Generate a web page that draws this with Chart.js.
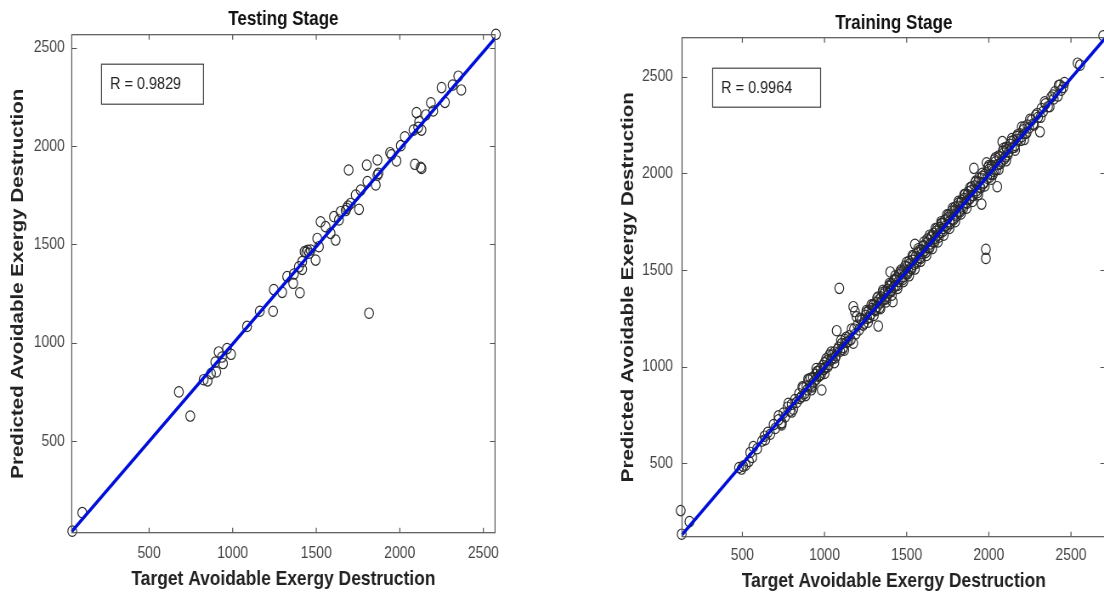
<!DOCTYPE html>
<html>
<head>
<meta charset="utf-8">
<script src="https://cdn.jsdelivr.net/npm/chart.js@4/dist/chart.umd.min.js"></script>
<style>
  html, body { margin: 0; padding: 0; background: #fff; overflow: hidden; width: 1104px; height: 594px; }
  /* the source figure is squeezed horizontally, so both canvases are drawn wide and squeezed */
  canvas { position: absolute; top: 0; transform: scaleX(0.85); transform-origin: 0 0; }
  #left { left: 0; }
  #right { left: 600px; }
</style>
</head>
<body>
<canvas id="left" width="612" height="594"></canvas>
<canvas id="right" width="612" height="594"></canvas>
<script>
// tick labels shared by both panels
const tickValues = [500, 1000, 1500, 2000, 2500];

// Testing stage
const testTarget = [
  2575, 2350, 2316, 2368, 2250, 2270, 2186, 2200, 2156, 2100, 2116, 2082, 2130, 2110,
  2030, 2006, 1980, 1942, 1950, 2090, 2130, 2125, 1866, 1802, 1694, 1872, 1866, 1806,
  1856, 1766, 1736, 1706, 1682, 1690, 1676, 1756, 1646, 1606, 1636, 1526, 1556, 1586,
  1616, 1506, 1516, 1466, 1448, 1440, 1430, 1458, 1496, 1416, 1396, 1416, 1366, 1326,
  1362, 1246, 1296, 1402, 1162, 1242, 1816, 1086, 966, 916, 990, 936, 896, 942, 902,
  870, 826, 850, 678, 746, 100, 40,
];
const testPredicted = [
  2568, 2355, 2310, 2285, 2297, 2222, 2220, 2178, 2158, 2170, 2124, 2081, 2081, 2095,
  2047, 2002, 1924, 1966, 1955, 1907, 1886, 1892, 1929, 1903, 1878, 1861, 1852, 1819,
  1802, 1776, 1751, 1708, 1683, 1695, 1672, 1678, 1666, 1641, 1624, 1615, 1590, 1556,
  1522, 1530, 1488, 1471, 1470, 1460, 1463, 1455, 1420, 1412, 1386, 1373, 1349, 1336,
  1302, 1270, 1256, 1254, 1160, 1160, 1150, 1083, 970, 953, 941, 927, 902, 894, 851,
  843, 812, 806, 750, 627, 136, 42,
];
const testFitX = [37, 2570];
const testFitY = [40, 2548];

// Training stage
const trainTarget = [
  131, 125, 178,
  480, 495, 505, 520, 540, 560, 548, 567, 590,
  620, 635, 640, 655, 670, 690, 700, 720, 735, 739, 750, 760,
  775, 790, 800, 810, 820, 830, 845, 850, 860, 870, 880, 890, 895, 905, 910, 920,
  930, 935, 945, 950, 960, 965, 975, 980, 983, 990, 995,
  1000, 1005, 1015, 1020, 1030, 1040, 1050, 1060, 1070, 1074, 1080, 1090, 1095, 1105,
  1115, 1125, 1135, 1150, 1160, 1175, 1175, 1185, 1195, 1180, 1200, 1210, 1225, 1240,
  1250, 1260, 1270, 1280, 1290,
  1300, 1305, 1315, 1320, 1327, 1330, 1340, 1345, 1350, 1360, 1365, 1370, 1380, 1385,
  1390, 1400, 1400, 1405, 1415, 1410, 1420, 1430, 1435, 1440, 1450, 1455, 1465, 1470,
  1480, 1485, 1495,
  1500, 1510, 1520, 1525, 1535, 1545, 1550, 1555, 1565, 1570, 1580, 1590, 1595, 1605,
  1610, 1620, 1630, 1635, 1645, 1650, 1660, 1665, 1675, 1680, 1690,
  1700, 1705, 1715, 1725, 1730, 1740, 1750, 1760, 1770, 1780, 1790, 1800, 1810, 1820,
  1830, 1840, 1850, 1860, 1870, 1880, 1890,
  1900, 1909, 1915, 1925, 1935, 1945, 1956, 1955, 1965, 1975, 1982, 1982, 1986, 1990,
  2000, 2010, 2020, 2030, 2040, 2051, 2055, 2065, 2075, 2082, 2090, 2100, 2110, 2120,
  2130, 2140, 2150, 2160, 2170, 2180, 2190,
  2200, 2210, 2220, 2235, 2245, 2260, 2270, 2285, 2300, 2311, 2320, 2330, 2345, 2360,
  2380, 2395,
  2402, 2433, 2453, 2440, 2460, 2540, 2555, 2696,
  865, 885, 915, 925, 955, 970, 1010, 1025, 1045, 1065, 1085, 1110, 1130, 1145, 1165,
  1190, 1215, 1235, 1255, 1275, 1295, 1310, 1325, 1335, 1355, 1375, 1395, 1408, 1425,
  1445, 1460, 1475, 1490, 1505, 1515, 1530, 1540, 1560, 1575, 1585, 1600, 1615, 1625,
  1640, 1655, 1670, 1685, 1695, 1710, 1720, 1735, 1745, 1755, 1765, 1775, 1785, 1795,
  1805, 1815, 1825, 1835, 1845, 1855, 1865, 1875, 1885, 1895, 1905, 1920, 1930, 1940,
  1950, 1960, 1970, 1995, 2005, 2015, 2025, 2035, 2045, 2060, 2070, 2085, 2095, 2105,
  2115, 2135, 2155, 2175, 2195, 2215, 2230, 2250, 2275, 2295, 2315, 2340, 2370, 2390,
  2420, 2425,
  1255, 1265, 1285, 1300, 1320, 1340, 1355, 1375, 1395, 1410, 1430, 1445, 1465, 1480,
  1500, 1515, 1535, 1550, 1570, 1585, 1605, 1620, 1640, 1655, 1675, 1690, 1710, 1725,
  1745, 1760, 1780, 1795, 1815, 1830, 1850, 1865, 1885, 1900, 1920, 1935, 1960, 1975,
  2000, 2015, 2040, 2060, 2090, 2105, 2140, 2160, 2200, 2215,
  900, 920, 950, 1000, 1040, 1060, 1100, 1120, 780, 800, 720, 740,
];
const trainPredicted = [
  133, 255, 198,
  478, 470, 485, 490, 510, 530, 556, 586, 575,
  615, 640, 622, 660, 650, 700, 680, 725, 705, 698, 760, 740,
  790, 770, 805, 780, 830, 815, 860, 835, 845, 890, 862, 900, 880, 930, 905, 900,
  945, 920, 960, 935, 975, 950, 990, 960, 879, 1005, 985,
  1020, 995, 1030, 1000, 1060, 1035, 1045, 1075, 1055, 1186, 1090, 1405, 1080, 1120,
  1100, 1140, 1125, 1160, 1140, 1121, 1310, 1285, 1258, 1195, 1215, 1190, 1240, 1225,
  1265, 1250, 1290, 1270, 1300,
  1320, 1295, 1330, 1310, 1210, 1345, 1330, 1360, 1340, 1375, 1350, 1390, 1365, 1400,
  1380, 1415, 1490, 1395, 1336, 1430, 1410, 1445, 1420, 1460, 1440, 1475, 1455, 1490,
  1465, 1500, 1480,
  1515, 1495, 1535, 1510, 1550, 1530, 1633, 1570, 1545, 1590, 1565, 1605, 1585, 1625,
  1600, 1640, 1615, 1655, 1635, 1670, 1645, 1690, 1665, 1700, 1680,
  1720, 1695, 1740, 1715, 1755, 1730, 1770, 1750, 1790, 1765, 1805, 1790, 1830, 1805,
  1850, 1830, 1870, 1850, 1890, 1865, 1910,
  1885, 2026, 1935, 1910, 1955, 1930, 1841, 1975, 1950, 1995, 1607, 1560, 2055, 1975,
  2020, 1995, 2040, 2010, 2060, 1931, 2045, 2085, 2060, 2164, 2105, 2085, 2125, 2110,
  2150, 2130, 2170, 2145, 2190, 2175, 2205,
  2190, 2225, 2205, 2250, 2235, 2275, 2255, 2300, 2290, 2215, 2335, 2320, 2360, 2345,
  2395, 2385,
  2422, 2457, 2445, 2430, 2470, 2570, 2560, 2712,
  895, 850, 940, 895, 975, 955, 1040, 1010, 1060, 1045, 1100, 1090, 1150, 1130, 1195,
  1170, 1250, 1215, 1280, 1255, 1320, 1290, 1360, 1305, 1385, 1350, 1420, 1390, 1450,
  1420, 1490, 1450, 1520, 1480, 1545, 1505, 1570, 1535, 1600, 1560, 1625, 1590, 1660,
  1615, 1680, 1645, 1715, 1670, 1740, 1700, 1760, 1720, 1785, 1740, 1805, 1760, 1825,
  1780, 1845, 1800, 1860, 1820, 1890, 1845, 1905, 1870, 1930, 1885, 1955, 1900, 1975,
  1925, 1985, 1950, 2030, 1980, 2040, 1995, 2070, 2020, 2090, 2050, 2115, 2075, 2135,
  2095, 2165, 2135, 2200, 2170, 2240, 2210, 2280, 2250, 2310, 2290, 2370, 2345, 2405,
  2400, 2455,
  1290, 1230, 1320, 1265, 1355, 1300, 1395, 1335, 1430, 1370, 1470, 1405, 1500, 1440,
  1540, 1470, 1575, 1505, 1610, 1545, 1645, 1575, 1680, 1610, 1715, 1645, 1750, 1680,
  1785, 1715, 1820, 1750, 1855, 1790, 1890, 1820, 1925, 1855, 1960, 1890, 2000, 1935,
  2040, 1970, 2080, 2020, 2130, 2065, 2180, 2120, 2240, 2175,
  935, 880, 990, 965, 1075, 1020, 1135, 1085, 810, 765, 745, 710,
];
const trainFitX = [133, 2710];
const trainFitY = [130, 2702];

const font = '"Liberation Sans", Arial, sans-serif';

// box round the plot, inward ticks on all four sides, R label
const frame = {
  id: "frame",
  afterDatasetsDraw(chart, args, opts) {
    const { ctx, chartArea: a, scales } = chart;
    ctx.save();
    ctx.strokeStyle = "#555";
    ctx.lineWidth = 1.2;
    ctx.strokeRect(a.left, a.top, a.right - a.left, a.bottom - a.top);
    ctx.beginPath();
    tickValues.forEach((v) => {
      const x = scales.x.getPixelForValue(v);
      if (x > a.left && x < a.right) {
        ctx.moveTo(x, a.bottom); ctx.lineTo(x, a.bottom - 5);
        ctx.moveTo(x, a.top); ctx.lineTo(x, a.top + 5);
      }
      const y = Math.round(scales.y.getPixelForValue(v)) + 0.5;
      if (y > a.top && y < a.bottom) {
        ctx.moveTo(a.left, y); ctx.lineTo(a.left + 6, y);
        ctx.moveTo(a.right, y); ctx.lineTo(a.right - 6, y);
      }
    });
    ctx.stroke();

    const bx = a.left + opts.boxX, by = a.top + opts.boxY;
    ctx.fillStyle = "#fff";
    ctx.fillRect(bx, by, opts.boxW, opts.boxH);
    ctx.strokeStyle = "#444";
    ctx.lineWidth = 1.2;
    ctx.strokeRect(bx, by + 0.5, opts.boxW, opts.boxH);
    ctx.fillStyle = "#222";
    ctx.font = "17px " + font;
    ctx.textBaseline = "middle";
    ctx.fillText(opts.label, bx + 10, by + opts.boxH / 2 + 1);
    ctx.restore();
  },
};

const getOptions = (cfg) => ({
  responsive: false,
  animation: false,
  layout: { padding: { left: 0, right: cfg.padRight, top: 0, bottom: 0 } },
  plugins: {
    legend: { display: false },
    tooltip: { enabled: false },
    title: {
      display: true,
      text: cfg.title,
      fullSize: false,
      color: "#111",
      font: { family: font, size: 20, weight: "bold" },
      padding: cfg.titlePad,
    },
    frame: cfg.box,
  },
  scales: {
    x: {
      type: "linear",
      min: cfg.xRange[0],
      max: cfg.xRange[1],
      afterBuildTicks: (s) => { s.ticks = tickValues.map((v) => ({ value: v })); },
      afterFit: (s) => { s.height = cfg.xHeight; },
      grid: { display: false, drawTicks: false },
      border: { display: false },
      ticks: {
        color: "#444",
        padding: cfg.xTickPad,
        font: { family: font, size: 16.4 },
        callback: (v) => String(v),
      },
      title: {
        display: true,
        text: "Target Avoidable Exergy Destruction",
        color: "#222",
        font: { family: font, size: 20.5, weight: "bold" },
        padding: { top: 0, bottom: cfg.xTitlePad },
      },
    },
    y: {
      type: "linear",
      min: cfg.yRange[0],
      max: cfg.yRange[1],
      afterBuildTicks: (s) => { s.ticks = tickValues.map((v) => ({ value: v })); },
      afterFit: (s) => { s.width = cfg.yWidth; },
      grid: { display: false, drawTicks: false },
      border: { display: false },
      ticks: {
        color: "#444",
        padding: cfg.yTickPad,
        font: { family: font, size: 16.4 },
        callback: (v) => String(v),
      },
      title: {
        display: true,
        text: "Predicted Avoidable Exergy Destruction",
        color: "#222",
        font: { family: font, size: 20.5, weight: "bold" },
        padding: { top: cfg.yTitlePad, bottom: 0 },
      },
    },
  },
});

const makeDatasets = (target, predicted, fitX, fitY) => [
  {
    type: "line",
    data: fitX.map((x, i) => ({ x, y: fitY[i] })),
    borderColor: "#0010d8",
    borderWidth: 3.4,
    pointRadius: 0,
    fill: false,
    clip: false,
  },
  {
    type: "scatter",
    data: target.map((x, i) => ({ x, y: predicted[i] })),
    pointStyle: "circle",
    pointRadius: 5.2,
    borderWidth: 1.2,
    borderColor: "#2a2a2a",
    backgroundColor: "transparent",
    clip: false,
  },
];

new Chart(document.querySelector("#left"), {
  type: "scatter",
  data: { datasets: makeDatasets(testTarget, testPredicted, testFitX, testFitY) },
  options: getOptions({
    title: "Testing Stage",
    xRange: [37, 2570],
    yRange: [34, 2566],
    padRight: 29.6,
    titlePad: { top: 7.5, bottom: 3.2 },
    xHeight: 61.3,
    yWidth: 84.4,
    xTickPad: 10.5,
    yTickPad: 8.2,
    xTitlePad: 2.7,
    yTitlePad: 9.5,
    box: { label: "R = 0.9829", boxX: 35, boxY: 29, boxW: 120, boxH: 40 },
  }),
  plugins: [frame],
});

new Chart(document.querySelector("#right"), {
  type: "scatter",
  data: { datasets: makeDatasets(trainTarget, trainPredicted, trainFitX, trainFitY) },
  options: getOptions({
    title: "Training Stage",
    xRange: [133, 2710],
    yRange: [120, 2702],
    padRight: 17.3,
    titlePad: { top: 11.5, bottom: 2.2 },
    xHeight: 57.3,
    yWidth: 96.5,
    xTickPad: 9.2,
    yTickPad: 10.6,
    xTitlePad: 0,
    yTitlePad: 21.2,
    box: { label: "R = 0.9964", boxX: 36, boxY: 30, boxW: 127, boxH: 39 },
  }),
  plugins: [frame],
});
</script>
</body>
</html>
